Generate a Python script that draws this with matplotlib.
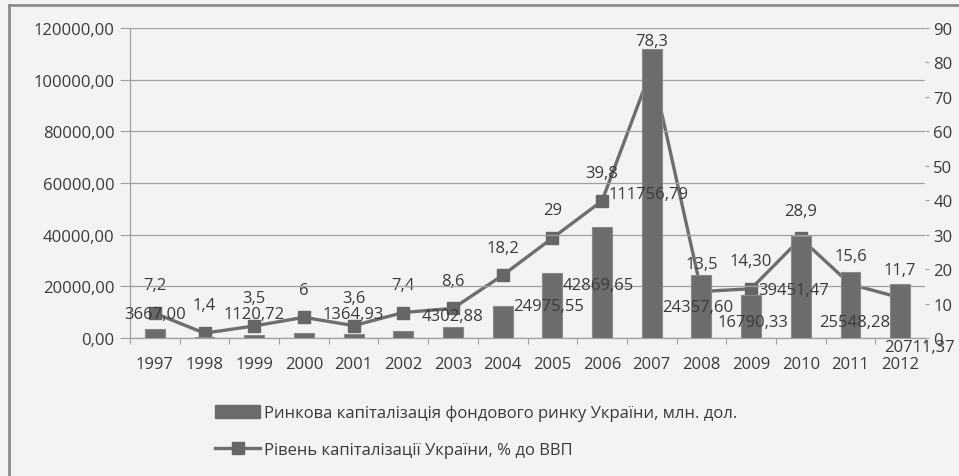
import matplotlib
matplotlib.use("Agg")
import matplotlib.pyplot as plt
from matplotlib.lines import Line2D
from matplotlib.patches import Patch
import numpy as np

plt.rcParams['font.family'] = ['Open Sans', 'DejaVu Sans']

years = ['1997', '1998', '1999', '2000', '2001', '2002', '2003', '2004',
         '2005', '2006', '2007', '2008', '2009', '2010', '2011', '2012']

# Market capitalisation of Ukraine's stock market, mln USD
market_cap = [3667.00, 560.00, 1120.72, 1880.00, 1364.93, 2900.00, 4302.88, 12400.00,
              24975.55, 42869.65, 111756.79, 24357.60, 16790.33, 39451.47, 25548.28, 20711.37]
# Which bar values carry a data label
cap_labelled = [True, False, True, False, True, False, True, False,
                True, True, True, True, True, True, True, True]

# Capitalisation level, % of GDP
cap_gdp = [7.2, 1.4, 3.5, 6, 3.6, 7.4, 8.6, 18.2, 29, 39.8, 78.3, 13.5, 14.30, 28.9, 15.6, 11.7]
cap_gdp_text = ['7,2', '1,4', '3,5', '6', '3,6', '7,4', '8,6', '18,2', '29', '39,8',
                '78,3', '13,5', '14,30', '28,9', '15,6', '11,7']

left_ticks = [0, 20000, 40000, 60000, 80000, 100000, 120000]
right_ticks = [0, 10, 20, 30, 40, 50, 60, 70, 80, 90]

legend_bar = 'Ринкова капіталізація фондового ринку України, млн. дол.'
legend_line = 'Рівень капіталізації України, % до ВВП'

BG = '#f3f3f3'
BAR = '#6c6c6c'
LINE = '#6e6e6e'
TXT = '#3a3a3a'
GRID = '#a0a0a0'
FS = 12

fig = plt.figure(figsize=(9.59, 4.77), dpi=100, facecolor=BG)
ax = fig.add_axes([130 / 959, 1 - 339 / 477, 795 / 959, 310 / 477])
ax2 = ax.twinx()

x = np.arange(len(years))

# line (percent of GDP) sits behind the bars
ax2.plot(x, cap_gdp, color=LINE, lw=2.4, marker='s', ms=9,
         mfc='#666666', mec='#666666', zorder=2)
ax2.set_ylim(0, 90)
ax2.set_yticks(right_ticks)
ax2.set_yticklabels([str(t) for t in right_ticks])
for s in ax2.spines.values():
    s.set_visible(False)
ax2.tick_params(axis='y', length=3, width=0.8, color=GRID, labelsize=FS,
                labelcolor=TXT, pad=3)
ax2.patch.set_visible(False)

for i, (v, t) in enumerate(zip(cap_gdp, cap_gdp_text)):
    ax2.annotate(t, (x[i], v), xytext=(0, 20), textcoords='offset points',
                 ha='center', va='center', fontsize=FS, color=TXT, zorder=6)

# bars on the primary (left) axis, drawn above the line
ax.set_zorder(ax2.get_zorder() + 1)
ax.patch.set_visible(False)
bars = ax.bar(x, market_cap, width=0.4, color=BAR, edgecolor='#8a8a8a',
              linewidth=0.8, zorder=3)
ax.set_xlim(-0.5, len(years) - 0.5)
ax.set_ylim(0, 120000)
ax.set_yticks(left_ticks)
ax.set_yticklabels([f'{t},00' for t in left_ticks])
ax.yaxis.grid(True, color=GRID, lw=0.9)
ax.set_axisbelow(True)
ax.set_xticks(x)
ax.set_xticklabels(years)
ax.set_xticks(np.arange(-0.5, len(years), 1), minor=True)
ax.tick_params(axis='x', which='major', length=0, labelsize=FS, labelcolor=TXT, pad=13)
ax.tick_params(axis='x', which='minor', length=4, width=0.8, color=GRID)
ax.tick_params(axis='y', length=7, width=0.8, color=GRID, labelsize=FS,
               labelcolor=TXT, pad=4)
for side in ('top', 'right'):
    ax.spines[side].set_visible(False)
ax.spines['left'].set_color(GRID)
ax.spines['left'].set_linewidth(0.9)
ax.spines['bottom'].set_color(GRID)
ax.spines['bottom'].set_linewidth(0.9)

# bar value labels, placed at the bar middle with individual nudges (points)
label_nudge = [(0, 14), (0, 0), (0, 16), (0, 0), (0, 16), (0, 0), (0, 12), (0, 0),
               (-3, 0), (-3, -2), (-2, 0), (-3, 0), (1, -4), (-5, -2), (3, -12), (14, -26)]
for i, v in enumerate(market_cap):
    if not cap_labelled[i]:
        continue
    txt = f'{v:.2f}'.replace('.', ',')
    dx, dy = label_nudge[i]
    ax.annotate(txt, (x[i], v / 2), xytext=(dx, dy), textcoords='offset points',
                ha='center', va='center', fontsize=FS, color=TXT, zorder=7,
                annotation_clip=False)

# legend
handles = [Patch(facecolor=BAR, edgecolor=BAR),
           Line2D([0], [0], color=LINE, lw=2.4, marker='s', ms=8,
                  mfc='#666666', mec='#666666')]
fig.legend(handles, [legend_bar, legend_line], loc='upper left',
           bbox_to_anchor=(200 / 959, 1 - 391 / 477), frameon=False,
           fontsize=FS, labelcolor=TXT, handlelength=2.7, handleheight=0.8,
           handletextpad=0.25, labelspacing=1.25)

# outer chart frame
fig.add_artist(Line2D([9 / 959, 1.0], [1 - 6 / 477, 1 - 6 / 477],
                      transform=fig.transFigure, color='#8c8c8c', lw=2))
fig.add_artist(Line2D([9 / 959, 9 / 959], [0, 1 - 6 / 477],
                      transform=fig.transFigure, color='#8c8c8c', lw=2))

fig.savefig('out.png', dpi=100, facecolor=BG)
